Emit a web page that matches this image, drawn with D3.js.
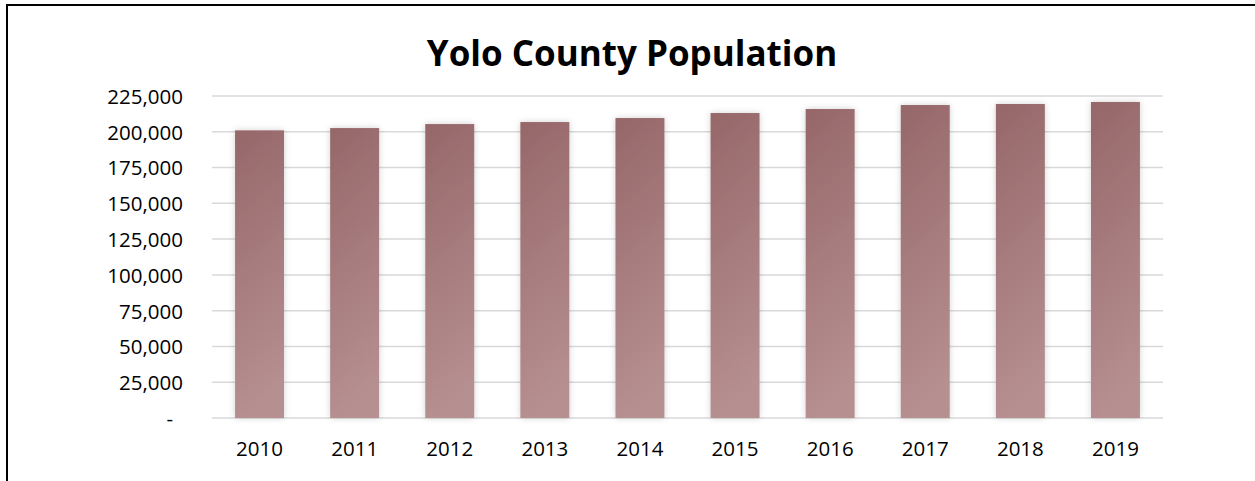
<!DOCTYPE html>
<meta charset="utf-8">
<style>
    body { margin: 0; background: #fff; }
    .axis text { font-family: "Open Sans", sans-serif; font-size: 20.5px; fill: #000; }
    .title { font-family: "Open Sans", sans-serif; font-weight: bold; font-size: 35px; }
</style>
<body>
<script src="https://d3js.org/d3.v7.min.js"></script>
<script>

    // data
    var years = ["2010", "2011", "2012", "2013", "2014", "2015", "2016", "2017", "2018", "2019"];
    var population = [201000, 202600, 205400, 206800, 209600, 213100, 215900, 218700, 219400, 220800];
    var yTicks = [0, 25000, 50000, 75000, 100000, 125000, 150000, 175000, 200000, 225000];

    var width = 1255, height = 481;
    var plot = { left: 212, right: 1163, top: 96, bottom: 418 };

    var svg = d3.select("body").append("svg")
        .attr("width", width).attr("height", height);

    var defs = svg.append("defs");
    var grad = defs.append("linearGradient")
        .attr("id", "barGrad")
        .attr("x1", 0).attr("y1", 0).attr("x2", 0.15).attr("y2", 1);
    grad.append("stop").attr("offset", "0%").attr("stop-color", "#966769");
    grad.append("stop").attr("offset", "100%").attr("stop-color", "#b68f91");

    var shadow = defs.append("filter").attr("id", "shadow")
        .attr("x", "-30%").attr("y", "-10%").attr("width", "160%").attr("height", "120%");
    shadow.append("feDropShadow")
        .attr("dx", 0).attr("dy", 0).attr("stdDeviation", 3)
        .attr("flood-color", "#000").attr("flood-opacity", 0.18);

    // chart border
    svg.append("rect")
        .attr("x", 7).attr("y", 5)
        .attr("width", width + 20).attr("height", height + 20)
        .attr("fill", "none").attr("stroke", "#000").attr("stroke-width", 2);

    svg.append("text")
        .attr("class", "title")
        .attr("x", 632).attr("y", 66)
        .attr("text-anchor", "middle")
        .text("Yolo County Population");

    var x = d3.scaleBand()
        .domain(years)
        .range([plot.left, plot.right])
        .paddingInner(0.485).paddingOuter(0.2425);

    var y = d3.scaleLinear()
        .domain([0, 225000])
        .range([plot.bottom, plot.top]);

    // gridlines
    svg.append("g")
        .selectAll("line")
        .data(yTicks)
        .enter().append("line")
        .attr("x1", plot.left).attr("x2", plot.right)
        .attr("y1", function(d) { return y(d); })
        .attr("y2", function(d) { return y(d); })
        .attr("stroke", "#d9d9d9")
        .attr("stroke-width", 1.5);

    // y axis labels
    var yAxis = svg.append("g")
        .attr("class", "axis")
        .attr("transform", "translate(" + (plot.left - 29) + ",0)")
        .call(d3.axisLeft(y)
            .tickValues(yTicks)
            .tickSize(0)
            .tickPadding(0)
            .tickFormat(function(d) { return d === 0 ? "-" : d3.format(",")(d); }));
    yAxis.select(".domain").remove();
    yAxis.selectAll("text")
        .attr("dy", "0.36em")
        .attr("dx", function(d) { return d === 0 ? -10 : 0; });

    // bars
    svg.append("g")
        .selectAll("rect")
        .data(population)
        .enter().append("rect")
        .attr("x", function(d, i) { return x(years[i]); })
        .attr("y", function(d) { return y(d); })
        .attr("width", x.bandwidth())
        .attr("height", function(d) { return y(0) - y(d); })
        .attr("fill", "url(#barGrad)")
        .attr("filter", "url(#shadow)");

    // x axis labels
    var xAxis = svg.append("g")
        .attr("class", "axis")
        .attr("transform", "translate(0," + plot.bottom + ")")
        .call(d3.axisBottom(x).tickSize(0).tickPadding(23));
    xAxis.select(".domain").remove();

</script>
</body>
